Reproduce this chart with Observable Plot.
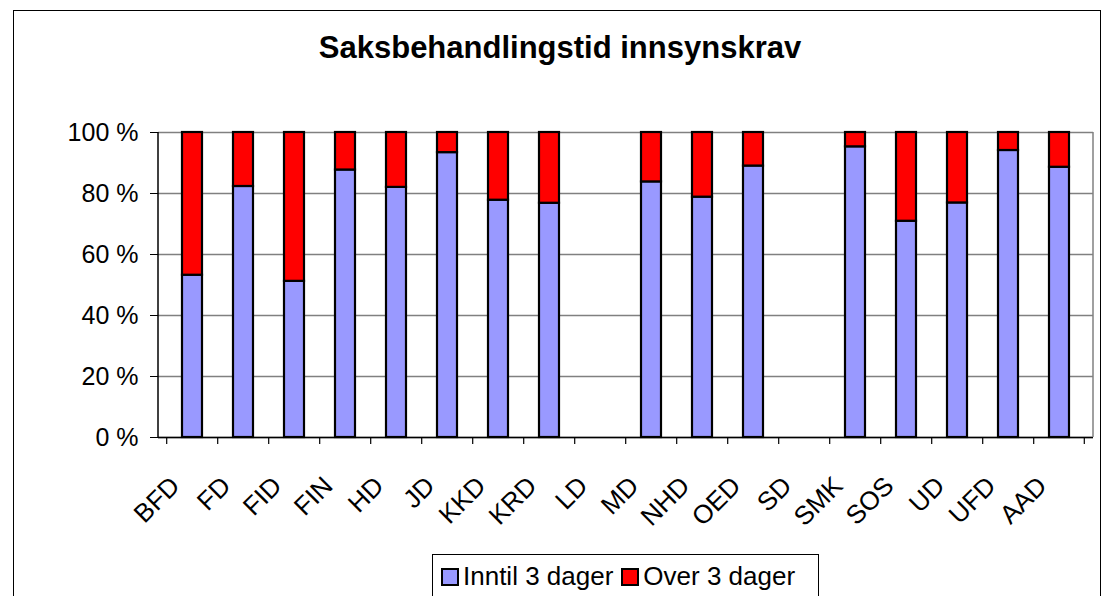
<!DOCTYPE html>
<html><head><meta charset="utf-8">
<script src="https://cdn.jsdelivr.net/npm/d3@7"></script>
<script src="https://cdn.jsdelivr.net/npm/@observablehq/plot@0.6"></script>
<style>
body{margin:0;background:#fff;font-family:"Liberation Sans",Arial,sans-serif;}
#wrap{position:relative;width:1102px;height:596px;overflow:hidden;}
#frame{position:absolute;left:13px;top:10px;width:1086px;height:600px;border:1px solid #000;}
#title{position:absolute;left:0;width:1120px;top:30px;text-align:center;font-weight:bold;font-size:31px;}
#chart{position:absolute;left:0;top:0;}
#legend{position:absolute;left:432px;top:554px;width:387px;height:50px;border:1px solid #000;background:#fff;font-size:26px;display:flex;align-items:flex-start;padding-top:6px;box-sizing:border-box;}
.item{display:flex;align-items:center;margin-left:8px;}
.item + .item{margin-left:8px;}
.sw{width:14px;height:14px;border:2px solid #000;margin-right:4px;}
</style></head>
<body>
<div id="wrap">
<div id="frame"></div>
<div id="title">Saksbehandlingstid innsynskrav</div>
<div id="chart"></div>
<div id="legend"></div>
</div>
<script>
const categories = ["BFD","FD","FID","FIN","HD","JD","KKD","KRD","LD","MD","NHD","OED","SD","SMK","SOS","UD","UFD","AAD"];
const inntil = [53.2,82.3,51.2,87.7,82.0,93.4,77.8,76.8,null,83.8,78.8,89.0,null,95.3,70.9,76.9,94.1,88.6];
const seriesNames = ["Inntil 3 dager","Over 3 dager"];
const seriesColors = ["#9999ff","#ff0000"];
const yTicks = [0,20,40,60,80,100];

const rows = [];
categories.forEach((c,i)=>{
  if (inntil[i] == null) return;
  rows.push({cat:c, series:seriesNames[0], value:inntil[i]});
  rows.push({cat:c, series:seriesNames[1], value:100-inntil[i]});
});

const pi = 0.6, po = 0.3;
const between = (index, scales, values, dims) => {
  const g = d3.create("svg:g");
  const x = scales.x, step = x.step();
  const y0 = dims.height - dims.marginBottom;
  const xs = categories.map(c => x(c) - step*pi/2);
  xs.push(x(categories[categories.length-1]) + x.bandwidth() + step*pi/2);
  for (const px of xs) {
    g.append("line").attr("x1",px).attr("x2",px).attr("y1",y0).attr("y2",y0+7).attr("stroke","#000").attr("stroke-width",1.2);
  }
  return g.node();
};
const frameLines = (index, scales, values, d) => {
  const g = d3.create("svg:g");
  const right = d.width - d.marginRight;
  g.append("line").attr("x1",right).attr("x2",right).attr("y1",d.marginTop).attr("y2",d.height-d.marginBottom).attr("stroke","#808080").attr("stroke-width",1.5);
  g.append("line").attr("x1",d.marginLeft).attr("x2",d.marginLeft).attr("y1",d.marginTop).attr("y2",d.height-d.marginBottom).attr("stroke","#000").attr("stroke-width",1.5);
  return g.node();
};

const plot = Plot.plot({
  width:1102, height:596,
  marginLeft:158, marginRight:9, marginTop:132, marginBottom:159,
  style:{fontFamily:"Liberation Sans, Arial, sans-serif", fontSize:"25px", background:"transparent", overflow:"visible", color:"#000"},
  x:{domain:categories, paddingInner:pi, paddingOuter:po, label:null},
  y:{domain:[0,100], ticks:yTicks, label:null},
  color:{domain:seriesNames, range:seriesColors},
  marks:[
    Plot.gridY(yTicks, {stroke:"#808080", strokeOpacity:1, strokeWidth:1.5}),
    Plot.barY(rows, {x:"cat", y:"value", fill:"series", stroke:"#000", strokeWidth:2.2}),
    Plot.axisY({ticks:yTicks, tickFormat:d=>d+" %", tickSize:8, tickPadding:12, fontSize:25, stroke:"#000"}),
    Plot.axisX({tickSize:0, tickRotate:-45, tickPadding:44, fontSize:26, dx:-17}),
    Plot.ruleY([0], {stroke:"#000", strokeWidth:1.5}),
    frameLines,
    between
  ]
});
document.getElementById("chart").appendChild(plot);

const leg = document.getElementById("legend");
seriesNames.forEach((n,i)=>{
  const it = document.createElement("div"); it.className="item";
  const sw = document.createElement("div"); sw.className="sw"; sw.style.background=seriesColors[i];
  it.appendChild(sw); it.appendChild(document.createTextNode(n));
  leg.appendChild(it);
});
</script>
</body></html>
